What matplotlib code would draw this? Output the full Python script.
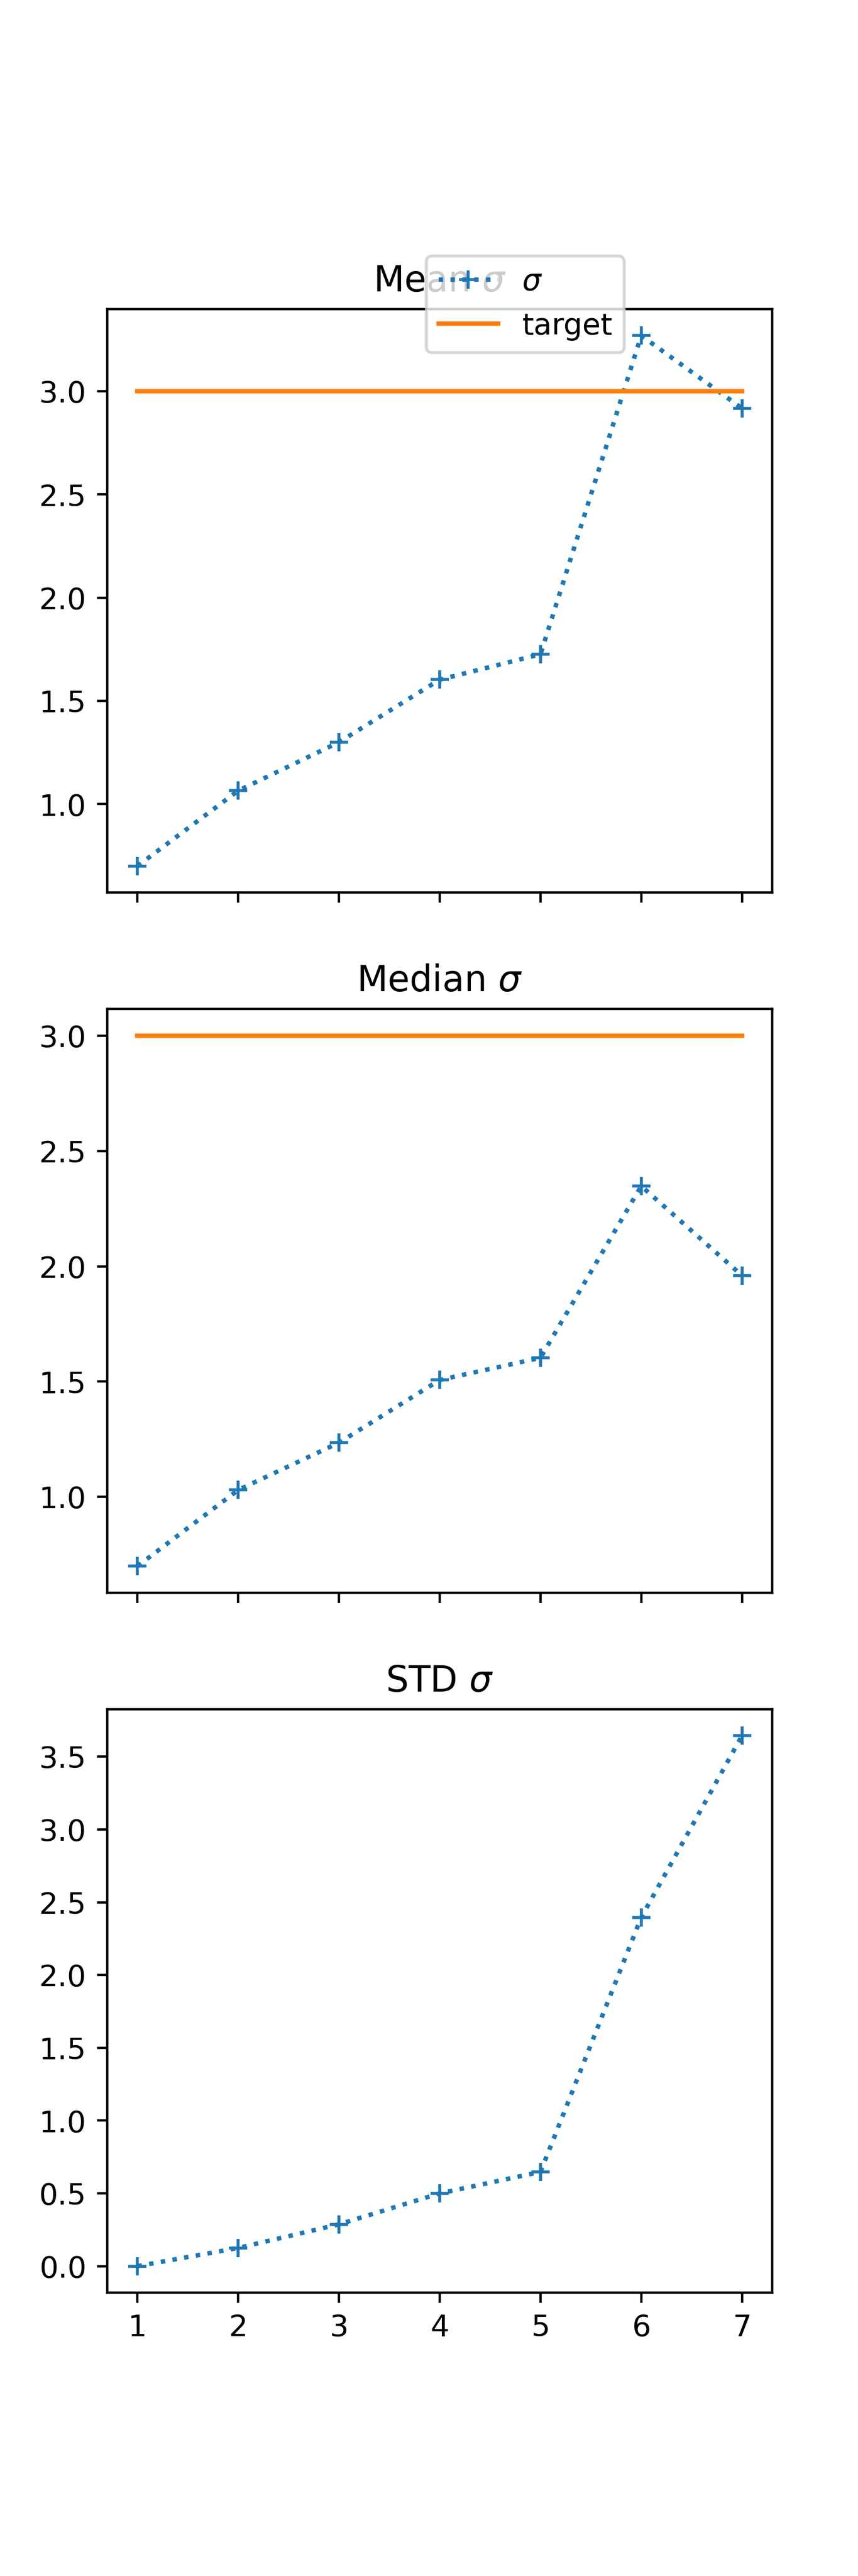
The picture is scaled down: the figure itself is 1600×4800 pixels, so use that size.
import matplotlib
matplotlib.use("Agg")
import matplotlib.pyplot as plt

x = [1, 2, 3, 4, 5, 6, 7]
mean_sigma = [0.70, 1.065, 1.30, 1.603, 1.726, 3.27, 2.918]
median_sigma = [0.70, 1.03, 1.235, 1.507, 1.603, 2.348, 1.96]
std_sigma = [0.0, 0.125, 0.287, 0.50, 0.647, 2.396, 3.644]
target = [3.0] * len(x)
titles = ["Mean $\\sigma$", "Median $\\sigma$", "STD $\\sigma$"]

fig, axes = plt.subplots(3, 1, figsize=(4, 12), sharex=True)

ax = axes[0]
ax.plot(x, mean_sigma, ":+", label="$\\sigma$")
ax.plot(x, target, "-", label="target")
ax.set_title(titles[0])
ax.legend(loc="lower right", bbox_to_anchor=(0.8, 0.9))

ax = axes[1]
ax.plot(x, median_sigma, ":+", label="$\\sigma$")
ax.plot(x, target, "-", label="target")
ax.set_title(titles[1])

ax = axes[2]
ax.plot(x, std_sigma, ":+", label="$\\sigma$")
ax.set_title(titles[2])

fig.savefig("out.png", dpi=400)
